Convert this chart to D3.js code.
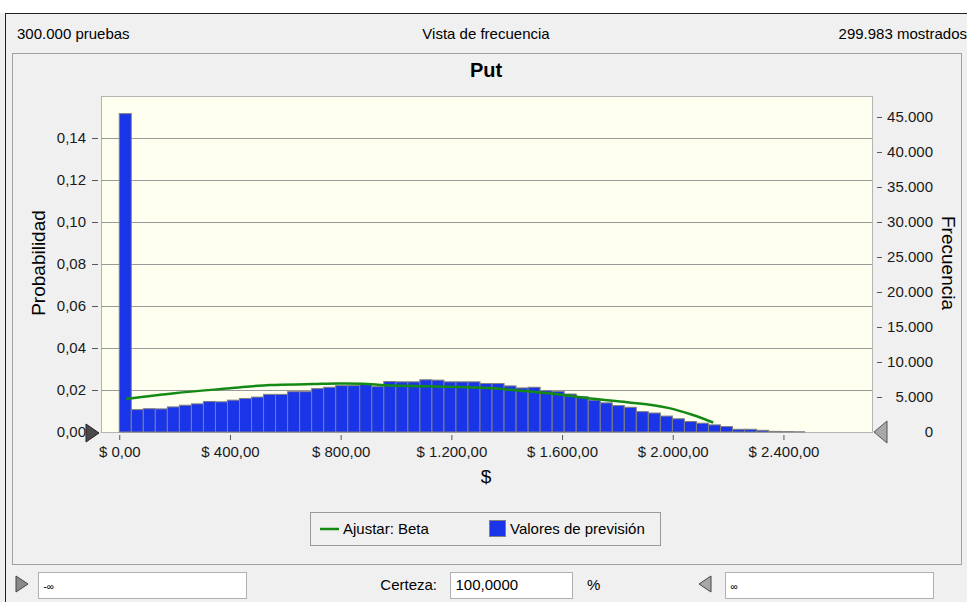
<!DOCTYPE html>
<html>
<head>
<meta charset="utf-8">
<script src="https://cdn.jsdelivr.net/npm/d3@7"></script>
<style>
  body { margin: 0; background: #ffffff; }
  svg { display: block; font-family: "Liberation Sans", Arial, sans-serif; }
  .tick text { font-size: 15px; fill: #1a1a1a; }
</style>
</head>
<body>
<svg id="chart" width="967" height="602"></svg>
<script>
// histogram of the forecast (probability per bin, bins of ~ $43.45 starting at $0)
const binWidth = 43.45
const probs = [
	0.1516, 0.01065, 0.0111, 0.0110, 0.01195, 0.01275, 0.0134, 0.01453, 0.01437, 0.01517,
	0.01598, 0.01663, 0.01792, 0.01792, 0.01921, 0.01921, 0.02066, 0.02131, 0.02211, 0.02211,
	0.0226, 0.02163, 0.02405, 0.02389, 0.02389, 0.02486, 0.0247, 0.02389, 0.02389, 0.02389,
	0.02308, 0.02308, 0.02195, 0.02098, 0.02131, 0.0197, 0.01937, 0.01808, 0.01679, 0.01517,
	0.01388, 0.01259, 0.01178, 0.00969, 0.00904, 0.00759, 0.0063, 0.0050, 0.0042, 0.00339,
	0.00258, 0.00129, 0.00129, 0.00081, 0.0003, 0.0002, 0.0001
]

// fitted Beta curve
const fitX = [25, 200, 400, 545, 700, 790, 877, 960, 1116, 1231, 1351, 1474, 1593, 1712, 1835, 1983, 2070, 2146]
const fitY = [0.0158, 0.0185, 0.0208, 0.0224, 0.0228, 0.0231, 0.0230, 0.0223, 0.0218, 0.0214, 0.0208, 0.0194, 0.0179, 0.0158, 0.0142, 0.0115, 0.0082, 0.0045]

const probTicks = [0, 0.02, 0.04, 0.06, 0.08, 0.10, 0.12, 0.14]
const freqTicks = [0, 5000, 10000, 15000, 20000, 25000, 30000, 35000, 40000, 45000]
const dollarTicks = [0, 400, 800, 1200, 1600, 2000, 2400]
const shown = 299983

const locale = d3.formatLocale({ decimal: ",", thousands: ".", grouping: [3], currency: ["$ ", ""] })

const svg = d3.select("#chart")

// window background and frame
svg.append("rect").attr("x", 0).attr("y", 13).attr("width", 967).attr("height", 589).attr("fill", "#f0f0f0")
svg.append("line").attr("x1", 5).attr("x2", 967).attr("y1", 13.5).attr("y2", 13.5).attr("stroke", "#222")
svg.append("line").attr("x1", 5.5).attr("x2", 5.5).attr("y1", 13).attr("y2", 602).attr("stroke", "#222")
svg.append("rect").attr("x", 12.5).attr("y", 53.5).attr("width", 949).attr("height", 511)
	.attr("fill", "#f0f0f0").attr("stroke", "#a0a0a0")

// header
svg.append("text").attr("x", 17).attr("y", 39).attr("font-size", 15).text("300.000 pruebas")
svg.append("text").attr("x", 486).attr("y", 39).attr("font-size", 15).attr("text-anchor", "middle").text("Vista de frecuencia")
svg.append("text").attr("x", 967).attr("y", 39).attr("font-size", 15).attr("text-anchor", "end").text("299.983 mostrados")

// title
svg.append("text").attr("x", 486).attr("y", 77).attr("font-size", 20).attr("font-weight", "bold")
	.attr("text-anchor", "middle").text("Put")

const plot = { left: 101, right: 872, top: 96, bottom: 432 }

const x = d3.scaleLinear().domain([-66, 2720]).range([plot.left, plot.right])
const y = d3.scaleLinear().domain([0, 0.16]).range([plot.bottom, plot.top])
const yFreq = d3.scaleLinear().domain([0, 0.16 * shown]).range([plot.bottom, plot.top])

// plot area
svg.append("rect").attr("x", plot.left + 0.5).attr("y", plot.top + 0.5)
	.attr("width", plot.right - plot.left).attr("height", plot.bottom - plot.top)
	.attr("fill", "#fffff0").attr("stroke", "#b4b4b4")

// gridlines
svg.append("g").selectAll("line")
	.data(probTicks.slice(1))
	.join("line")
	.attr("x1", plot.left).attr("x2", plot.right)
	.attr("y1", d => Math.round(y(d)) + 0.5).attr("y2", d => Math.round(y(d)) + 0.5)
	.attr("stroke", "#9a9a9a")

// bars
svg.append("g").selectAll("rect")
	.data(probs)
	.join("rect")
	.attr("x", (d, i) => x(i * binWidth))
	.attr("width", (d, i) => x((i + 1) * binWidth) - x(i * binWidth))
	.attr("y", d => y(d))
	.attr("height", d => plot.bottom - y(d))
	.attr("fill", "#1a35e8")
	.attr("stroke", "#808080")
	.attr("stroke-width", 1)

// fitted curve
const line = d3.line()
	.x(d => x(d[0]))
	.y(d => y(d[1]))
	.curve(d3.curveMonotoneX)
svg.append("path")
	.datum(fitX.map((v, i) => [v, fitY[i]]))
	.attr("d", line)
	.attr("fill", "none")
	.attr("stroke", "#148a14")
	.attr("stroke-width", 2.5)

// axes
const gLeft = svg.append("g").attr("transform", "translate(98,0)")
	.call(d3.axisLeft(y).tickValues(probTicks).tickSize(6).tickPadding(6).tickFormat(locale.format(",.2f")))
const gRight = svg.append("g").attr("transform", "translate(877,0)")
	.call(d3.axisRight(yFreq).tickValues(freqTicks).tickSize(5).tickPadding(6).tickFormat(locale.format(",.0f")))
gRight.selectAll("text").attr("x", 56).attr("text-anchor", "end")
const gBottom = svg.append("g").attr("transform", "translate(0,435)")
	.call(d3.axisBottom(x).tickValues(dollarTicks).tickSize(5).tickPadding(6).tickFormat(locale.format("$,.2f")))
;[gLeft, gRight, gBottom].forEach(g => {
	g.select(".domain").remove()
	g.selectAll(".tick line").attr("stroke", "#555")
})

// axis titles
svg.append("text").attr("transform", "translate(45,263) rotate(-90)")
	.attr("text-anchor", "middle").attr("font-size", 19).text("Probabilidad")
svg.append("text").attr("transform", "translate(942,263) rotate(90)")
	.attr("text-anchor", "middle").attr("font-size", 19).text("Frecuencia")
svg.append("text").attr("x", 486).attr("y", 483).attr("text-anchor", "middle").attr("font-size", 19).text("$")

// certainty grabbers
svg.append("path").attr("d", "M86,424 L99,433 L86,442 Z").attr("fill", "#4a4a4a").attr("stroke", "#222")
svg.append("path").attr("d", "M887,421 L874,432 L887,443 Z").attr("fill", "#a8a8a8").attr("stroke", "#555")

// legend
const legend = svg.append("g")
legend.append("rect").attr("x", 310.5).attr("y", 512.5).attr("width", 350).attr("height", 33)
	.attr("fill", "#f0f0f0").attr("stroke", "#9a9a9a")
legend.append("line").attr("x1", 320).attr("x2", 339).attr("y1", 529).attr("y2", 529)
	.attr("stroke", "#148a14").attr("stroke-width", 2.5)
legend.append("text").attr("x", 343).attr("y", 534).attr("font-size", 15).text("Ajustar: Beta")
legend.append("rect").attr("x", 489.5).attr("y", 520.5).attr("width", 16).attr("height", 16)
	.attr("fill", "#1a35e8").attr("stroke", "#808080")
legend.append("text").attr("x", 510).attr("y", 534).attr("font-size", 15).text("Valores de previsión")

// bottom certainty controls
svg.append("path").attr("d", "M16,576 L28,584 L16,592 Z").attr("fill", "#8a8a8a").attr("stroke", "#444")
svg.append("path").attr("d", "M711,576 L699,584 L711,592 Z").attr("fill", "#a8a8a8").attr("stroke", "#444")
const boxes = [[38.5, 208, "-∞"], [450.5, 122, "100,0000"], [725.5, 208, "∞"]]
boxes.forEach(b => {
	svg.append("rect").attr("x", b[0]).attr("y", 572.5).attr("width", b[1]).attr("height", 26)
		.attr("fill", "#fff").attr("stroke", "#b0b0b0")
	svg.append("text").attr("x", b[0] + 5).attr("y", 590).attr("font-size", b[2].length > 2 ? 15 : 10).text(b[2])
})
svg.append("text").attr("x", 437).attr("y", 590).attr("font-size", 15).attr("text-anchor", "end").text("Certeza:")
svg.append("text").attr("x", 587).attr("y", 590).attr("font-size", 15).text("%")
</script>
</body>
</html>
